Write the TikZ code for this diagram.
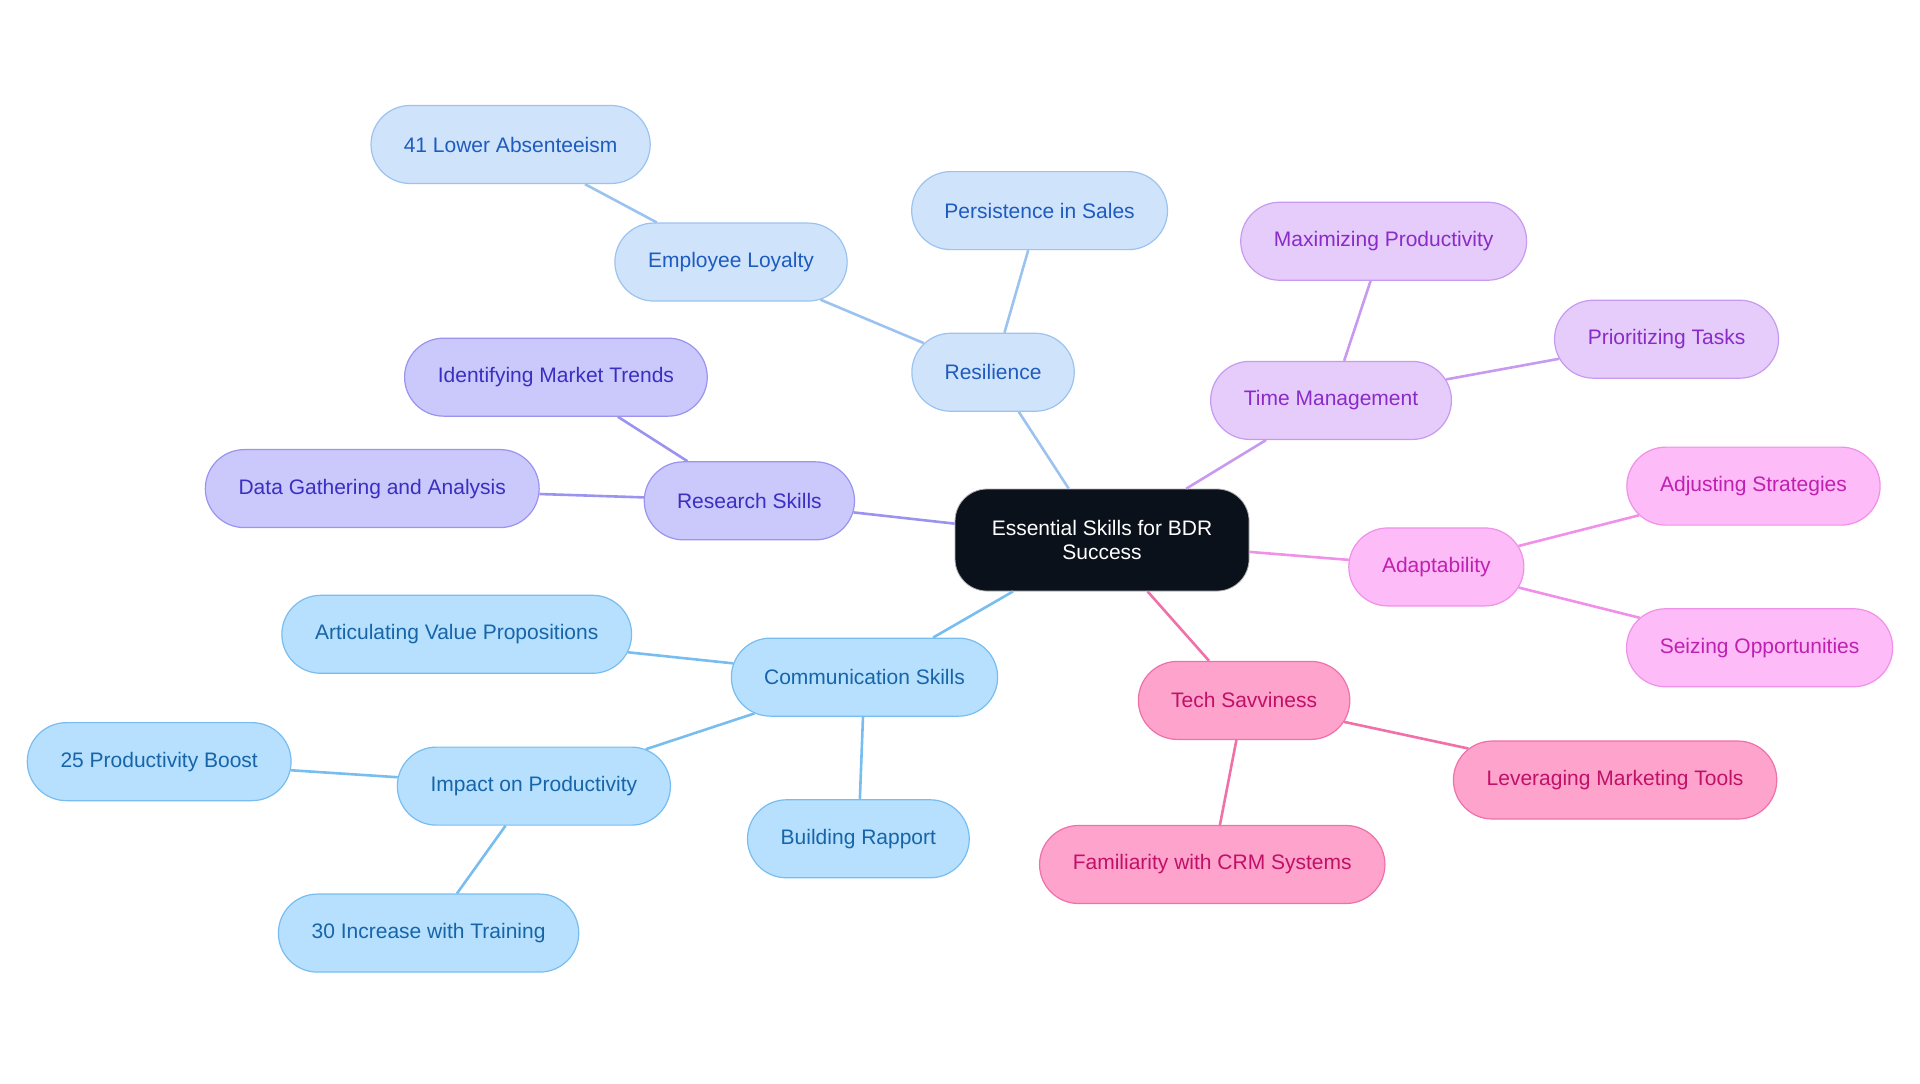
\documentclass[tikz,border=0pt]{standalone}
\usepackage{fontspec}
\setmainfont{Liberation Sans}
\usetikzlibrary{shapes.misc}
\definecolor{rootfill}{HTML}{0B111B}
\definecolor{resfill}{HTML}{CFE3FB}\definecolor{resdraw}{HTML}{9CC3F0}\definecolor{restext}{HTML}{1E5BBF}
\definecolor{rsfill}{HTML}{CBC8FC}\definecolor{rsdraw}{HTML}{9A94F0}\definecolor{rstext}{HTML}{3A2FC0}
\definecolor{comfill}{HTML}{B6E0FE}\definecolor{comdraw}{HTML}{78BDF0}\definecolor{comtext}{HTML}{1765A8}
\definecolor{timfill}{HTML}{E5CCFB}\definecolor{timdraw}{HTML}{C79AF0}\definecolor{timtext}{HTML}{8A2BC8}
\definecolor{adafill}{HTML}{FDBBF7}\definecolor{adadraw}{HTML}{F090E8}\definecolor{adatext}{HTML}{C020B0}
\definecolor{tecfill}{HTML}{FEA3CC}\definecolor{tecdraw}{HTML}{F070A8}\definecolor{tectext}{HTML}{C01068}
\tikzset{
  skill/.style={rounded rectangle, minimum height=39pt, inner xsep=16pt,
    font=\fontsize{10.5}{12}\selectfont, line width=0.6pt},
  res/.style={skill, fill=resfill, draw=resdraw, text=restext},
  rs/.style={skill, fill=rsfill, draw=rsdraw, text=rstext},
  com/.style={skill, fill=comfill, draw=comdraw, text=comtext},
  tim/.style={skill, fill=timfill, draw=timdraw, text=timtext},
  ada/.style={skill, fill=adafill, draw=adadraw, text=adatext},
  tec/.style={skill, fill=tecfill, draw=tecdraw, text=tectext},
  link/.style={line width=1.3pt},
}
\begin{document}
\begin{tikzpicture}[x=0.6122pt,y=-0.6122pt]
\useasboundingbox (0,0) rectangle (1568,884.5);

% root
\node [rounded corners=16pt, fill=rootfill, draw=gray!60, text=white, align=center,
  minimum width=147pt, minimum height=51pt, font=\fontsize{10.5}{12}\selectfont]
  (root) at (900,441) {Essential Skills for BDR\\Success};

% resilience branch
\node [res] (resil) at (811,304) {Resilience};
\node [res] (persist) at (849,172) {Persistence in Sales};
\node [res] (loyal) at (597,214) {Employee Loyalty};
\node [res] (absent) at (417,118) {41 Lower Absenteeism};

% research branch
\node [rs] (research) at (612,409) {Research Skills};
\node [rs] (trends) at (454,308) {Identifying Market Trends};
\node [rs] (data) at (304,399) {Data Gathering and Analysis};

% communication branch
\node [com] (comm) at (706,553) {Communication Skills};
\node [com] (value) at (373,518) {Articulating Value Propositions};
\node [com] (impact) at (436,642) {Impact on Productivity};
\node [com] (boost) at (130,622) {25 Productivity Boost};
\node [com] (train) at (350,762) {30 Increase with Training};
\node [com] (rapport) at (701,685) {Building Rapport};

% time management branch
\node [tim] (time) at (1087,327) {Time Management};
\node [tim] (maxprod) at (1130,197) {Maximizing Productivity};
\node [tim] (prio) at (1361,277) {Prioritizing Tasks};

% adaptability branch
\node [ada] (adapt) at (1173,463) {Adaptability};
\node [ada] (adjust) at (1432,397) {Adjusting Strategies};
\node [ada] (seize) at (1437,529) {Seizing Opportunities};

% tech branch
\node [tec] (tech) at (1016,572) {Tech Savviness};
\node [tec] (tools) at (1319,637) {Leveraging Marketing Tools};
\node [tec] (crm) at (990,706) {Familiarity with CRM Systems};

% links
\draw [link, resdraw] (root) -- (resil);
\draw [link, resdraw] (resil) -- (persist);
\draw [link, resdraw] (resil) -- (loyal);
\draw [link, resdraw] (loyal) -- (absent);
\draw [link, rsdraw] (root) -- (research);
\draw [link, rsdraw] (research) -- (trends);
\draw [link, rsdraw] (research) -- (data);
\draw [link, comdraw] (root) -- (comm);
\draw [link, comdraw] (comm) -- (value);
\draw [link, comdraw] (comm) -- (impact);
\draw [link, comdraw] (impact) -- (boost);
\draw [link, comdraw] (impact) -- (train);
\draw [link, comdraw] (comm) -- (rapport);
\draw [link, timdraw] (root) -- (time);
\draw [link, timdraw] (time) -- (maxprod);
\draw [link, timdraw] (time) -- (prio);
\draw [link, adadraw] (root) -- (adapt);
\draw [link, adadraw] (adapt) -- (adjust);
\draw [link, adadraw] (adapt) -- (seize);
\draw [link, tecdraw] (root) -- (tech);
\draw [link, tecdraw] (tech) -- (tools);
\draw [link, tecdraw] (tech) -- (crm);
\end{tikzpicture}
\end{document}
